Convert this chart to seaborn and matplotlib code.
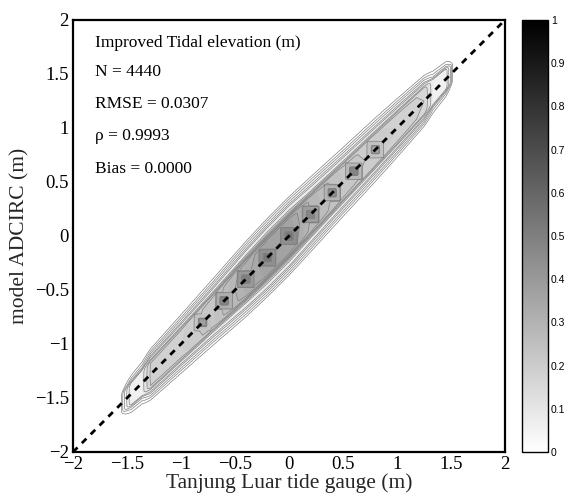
import numpy as np
import matplotlib
matplotlib.use("Agg")
import matplotlib.pyplot as plt
import seaborn as sns
import pandas as pd

# ---- data ----
# along-diagonal (gauge value) profile of the normalised density band
along_u = [-1.56, -1.46, -1.36, -1.28, -1.0, -0.7, -0.4, -0.2, 0.0, 0.2, 0.5, 0.8, 1.0, 1.25, 1.33, 1.45, 1.52]
along_amp = [0.0, 0.07, 0.08, 0.19, 0.2, 0.24, 0.33, 0.38, 0.38, 0.3, 0.24, 0.21, 0.2, 0.18, 0.08, 0.07, 0.0]
along_width = [0.15, 0.18, 0.2, 0.22, 0.25, 0.28, 0.31, 0.32, 0.32, 0.31, 0.29, 0.27, 0.25, 0.22, 0.2, 0.17, 0.14]
# cross-band profile (offset model-gauge, normalised by band width)
cross_t = [0.0, 0.45, 0.55, 0.62, 0.7, 0.8, 0.9, 1.0, 1.1, 1.2]
cross_p = [1.0, 0.97, 0.85, 0.55, 0.32, 0.2, 0.12, 0.06, 0.025, 0.0]
# density peaks on the diagonal
peak_x = [-0.8, -0.6, -0.4, -0.2, 0.0, 0.2, 0.4, 0.6, 0.8]
peak_val = [0.4, 0.5, 0.52, 0.56, 0.56, 0.5, 0.46, 0.5, 0.38]
box_val = [0.26, 0.34, 0.42, 0.46, 0.46, 0.4, 0.32, 0.3, 0.25]

one_to_one = [-2, 2]
ticks = [-2, -1.5, -1, -0.5, 0, 0.5, 1, 1.5, 2]
cbar_ticks = [0, 0.1, 0.2, 0.3, 0.4, 0.5, 0.6, 0.7, 0.8, 0.9, 1]

stats_lines = ["Improved Tidal elevation (m)", "N = 4440", "RMSE = 0.0307",
               "\u03c1 = 0.9993", "Bias = 0.0000"]
stats_y = [1.79, 1.52, 1.22, 0.93, 0.62]

# ---- build density grid ----
g = np.linspace(-2, 2, 401)
X, Y = np.meshgrid(g, g)
V = Y - X
amp = np.interp(X, along_u, along_amp)
wid = np.interp(X, along_u, along_width)
T = np.abs(V) / wid
Z = amp * np.interp(T, cross_t, cross_p)
BOX_H, PEAK_H = 0.075, 0.038
for px, pv, bv in zip(peak_x, peak_val, box_val):
    inb = (np.abs(X - px) <= BOX_H) & (np.abs(Y - px) <= BOX_H)
    Z = np.where(inb, np.maximum(Z, bv), Z)
    inp = (np.abs(X - px) <= PEAK_H) & (np.abs(Y - px) <= PEAK_H)
    Z = np.where(inp, np.maximum(Z, pv), Z)

sns.set_theme(style="white")
plt.rcParams["font.family"] = ["Liberation Serif", "DejaVu Serif"]

fig = plt.figure(figsize=(5.7, 4.96), dpi=100)
ax = fig.add_axes([73 / 570, 44 / 496, 432 / 570, 432 / 496])
cax = fig.add_axes([522 / 570, 44 / 496, 26 / 570, 432 / 496])

cmap = plt.get_cmap("gray_r")
fill_levels = np.arange(0, 1.0001, 0.02)
fill_colors = [cmap(l) for l in fill_levels[:-1]]
line_levels = np.concatenate([[0.006, 0.014, 0.025, 0.04, 0.055], np.arange(0.1, 1.0, 0.04)])
ax.contourf(X, Y, Z, levels=fill_levels, colors=fill_colors)
ax.contour(X, Y, Z, levels=line_levels, colors="0.5", linewidths=0.5)

line_df = pd.DataFrame({"x": one_to_one, "y": one_to_one})
sns.lineplot(data=line_df, x="x", y="y", ax=ax, color="black", lw=2,
             linestyle=(0, (2.3, 2.2)))

ax.set_xlim(-2, 2)
ax.set_ylim(-2, 2)
ax.set_xticks(ticks)
ax.set_yticks(ticks)
ax.set_xticklabels([f"{t:g}".replace("-", "\u2212") for t in ticks])
ax.set_yticklabels([f"{t:g}".replace("-", "\u2212") for t in ticks])
ax.tick_params(direction="in", length=5, width=1.2, top=True, right=True,
               bottom=True, left=True, labelsize=13.5, pad=3, colors="black")
for s in ax.spines.values():
    s.set_linewidth(1.6)
    s.set_color("black")
ax.set_xlabel("Tanjung Luar tide gauge (m)", fontsize=15.5, labelpad=0)
ax.set_ylabel("model ADCIRC (m)", fontsize=15.5, labelpad=4)

for txt, yy in zip(stats_lines, stats_y):
    ax.text(-1.80, yy, txt, fontsize=12.5, va="center", ha="left", color="black")

sm = matplotlib.cm.ScalarMappable(norm=matplotlib.colors.Normalize(0, 1), cmap="gray_r")
cb = fig.colorbar(sm, cax=cax, ticks=cbar_ticks)
cb.ax.set_yticklabels([f"{t:g}" for t in cbar_ticks], fontfamily="Liberation Sans", fontsize=7.5)
cb.ax.tick_params(direction="in", length=3, width=0.6, left=True, right=True, pad=2, colors="black")
cb.outline.set_linewidth(1.0)
cb.outline.set_edgecolor("black")

fig.savefig("out.png", dpi=100)
